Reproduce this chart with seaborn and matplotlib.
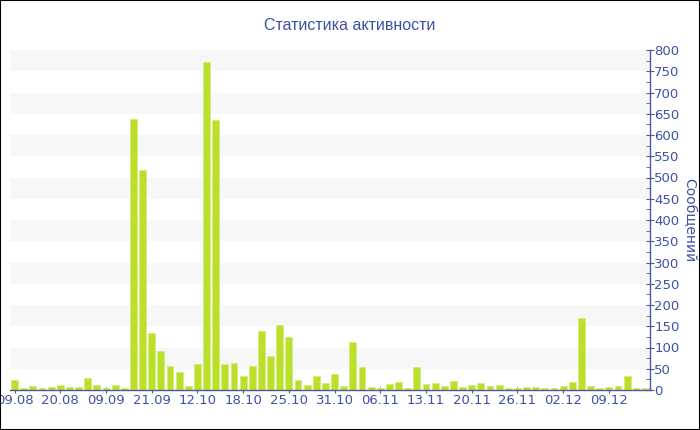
import matplotlib
matplotlib.use("Agg")
import matplotlib.pyplot as plt
import seaborn as sns
import pandas as pd
from matplotlib.ticker import MultipleLocator

# ---- data ----
counts = [23, 5, 9, 5, 6, 12, 7, 8, 28, 11,
          4, 11, 4, 638, 518, 135, 92, 56, 42, 9,
          61, 771, 635, 61, 63, 33, 57, 140, 81, 153,
          125, 23, 12, 34, 16, 37, 9, 114, 55, 7,
          4, 15, 18, 5, 54, 13, 16, 9, 22, 6,
          12, 16, 9, 12, 4, 4, 8, 7, 4, 4,
          9, 19, 170, 9, 4, 7, 9, 33, 5, 5]
tick_labels = ["09.08", "20.08", "09.09", "21.09", "12.10", "18.10", "25.10",
               "31.10", "06.11", "13.11", "20.11", "26.11", "02.12", "09.12"]
tick_step = 5
title = "Статистика активности"
y_label = "Сообщений"

df = pd.DataFrame({"day": list(range(len(counts))), "count": counts})

sns.set_theme(style="white")
plt.rcParams['font.family'] = ['DejaVu Sans']

AX_COL = "#4a5a9c"
TXT_COL = "#3f51a3"
BAR_COL = "#bbe02c"

fig = plt.figure(figsize=(7, 4.3), dpi=100)
ax = fig.add_axes([10/700, 40/430, 640/700, 340/430])

# alternating horizontal bands
for lo in range(50, 800, 100):
    ax.axhspan(lo, lo + 50, color="#f7f7f7", zorder=0, lw=0)

sns.barplot(data=df, x="day", y="count", color=BAR_COL, width=0.76,
            edgecolor="#d4ec7a", linewidth=0.6, saturation=1, ax=ax, zorder=2)

ax.set_xlim(-0.5, len(counts) - 0.5)
ax.set_ylim(0, 800)

ax.set_xticks(list(range(0, len(counts), tick_step))[:len(tick_labels)])
ax.set_xticklabels(tick_labels)
ax.set_xlabel("")
ax.set_ylabel("")

ax.yaxis.tick_right()
ax.yaxis.set_label_position("right")
ax.yaxis.set_major_locator(MultipleLocator(50))
ax.yaxis.set_minor_locator(MultipleLocator(25))

for s in ["top", "left"]:
    ax.spines[s].set_visible(False)
for s in ["bottom", "right"]:
    ax.spines[s].set_visible(True)
    ax.spines[s].set_color(AX_COL)
    ax.spines[s].set_linewidth(1.0)

ax.tick_params(axis="x", colors=AX_COL, labelcolor=TXT_COL, labelsize=9.5,
               length=4, width=0.8, direction="inout", pad=1, bottom=True)
ax.tick_params(axis="y", which="major", colors=AX_COL, labelcolor=TXT_COL,
               labelsize=9.5, length=6, width=0.8, direction="inout", pad=0, right=True)
ax.tick_params(axis="y", which="minor", colors=AX_COL, length=3, width=0.6,
               direction="in", right=True)

ax.set_ylabel(y_label, rotation=270, color=TXT_COL, fontsize=10, labelpad=12)
fig.text(0.5, 1 - 25/430, title, ha="center", va="center", color=TXT_COL,
         fontsize=11.5, family=["Liberation Sans", "DejaVu Sans"])

# figure border
fig.patches.append(plt.Rectangle((0, 0), 1, 1, transform=fig.transFigure,
                                 fill=False, edgecolor="black", linewidth=1.5))

fig.savefig("out.png", dpi=100)
